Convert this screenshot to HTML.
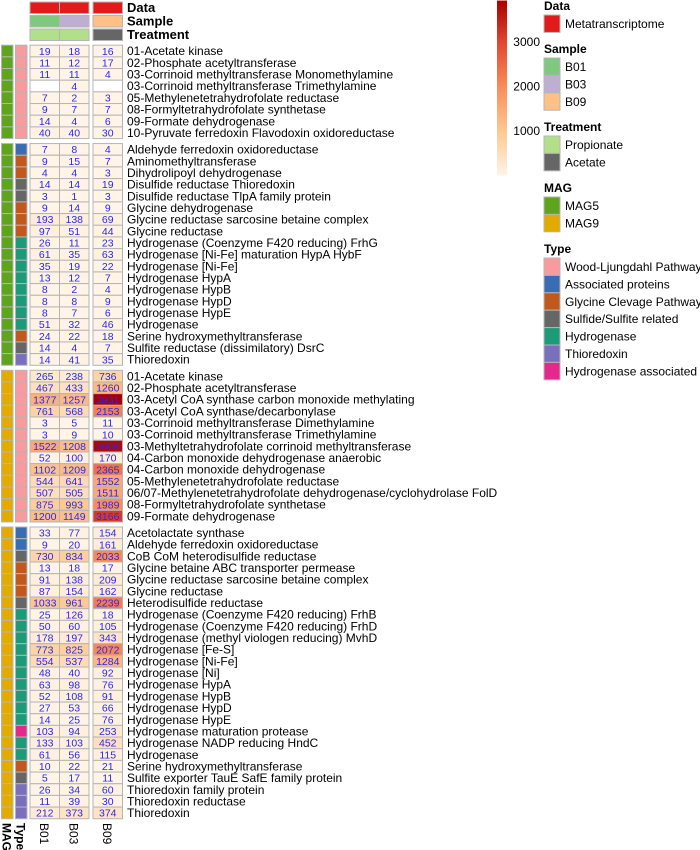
<!DOCTYPE html>
<html><head><meta charset="utf-8"><style>
body{margin:0;background:#fff;width:700px;height:850px;overflow:hidden}
svg{display:block;font-family:"Liberation Sans",Arial,sans-serif}
</style></head><body>
<svg id="chart" width="700" height="850" xmlns="http://www.w3.org/2000/svg"></svg>
<script>
const s1Labels=["01-Acetate kinase","02-Phosphate acetyltransferase","03-Corrinoid methyltransferase Monomethylamine","03-Corrinoid methyltransferase Trimethylamine","05-Methylenetetrahydrofolate reductase","08-Formyltetrahydrofolate synthetase","09-Formate dehydrogenase","10-Pyruvate ferredoxin Flavodoxin oxidoreductase"];
const s1B01=[19,11,11,null,7,9,14,40];
const s1B03=[18,12,11,4,2,7,4,40];
const s1B09=[16,17,4,null,3,7,6,30];
const s1Type=["WL","WL","WL","WL","WL","WL","WL","WL"];
const s2Labels=["Aldehyde ferredoxin oxidoreductase","Aminomethyltransferase","Dihydrolipoyl dehydrogenase","Disulfide reductase Thioredoxin","Disulfide reductase TlpA family protein","Glycine dehydrogenase","Glycine reductase sarcosine betaine complex","Glycine reductase","Hydrogenase (Coenzyme F420 reducing) FrhG","Hydrogenase [Ni-Fe] maturation HypA HybF","Hydrogenase [Ni-Fe]","Hydrogenase HypA","Hydrogenase HypB","Hydrogenase HypD","Hydrogenase HypE","Hydrogenase","Serine hydroxymethyltransferase","Sulfite reductase (dissimilatory) DsrC","Thioredoxin"];
const s2B01=[7,9,4,14,3,9,193,97,26,61,35,13,8,8,8,51,24,14,14];
const s2B03=[8,15,4,14,1,14,138,51,11,35,19,12,2,8,7,32,22,4,41];
const s2B09=[4,7,3,19,3,9,69,44,23,63,22,7,4,9,6,46,18,7,35];
const s2Type=["AP","GC","GC","SS","SS","GC","GC","GC","HY","HY","HY","HY","HY","HY","HY","HY","GC","SS","TR"];
const s3Labels=["01-Acetate kinase","02-Phosphate acetyltransferase","03-Acetyl CoA synthase carbon monoxide methylating","03-Acetyl CoA synthase/decarbonylase","03-Corrinoid methyltransferase Dimethylamine","03-Corrinoid methyltransferase Trimethylamine","03-Methyltetrahydrofolate corrinoid methyltransferase","04-Carbon monoxide dehydrogenase anaerobic","04-Carbon monoxide dehydrogenase","05-Methylenetetrahydrofolate reductase","06/07-Methylenetetrahydrofolate dehydrogenase/cyclohydrolase FolD","08-Formyltetrahydrofolate synthetase","09-Formate dehydrogenase"];
const s3B01=[265,467,1377,761,3,3,1522,52,1102,544,507,875,1200];
const s3B03=[238,433,1257,568,5,9,1208,100,1209,641,505,993,1149];
const s3B09=[736,1260,3931,2153,11,10,3808,170,2365,1552,1511,1989,3166];
const s3Type=["WL","WL","WL","WL","WL","WL","WL","WL","WL","WL","WL","WL","WL"];
const s4Labels=["Acetolactate synthase","Aldehyde ferredoxin oxidoreductase","CoB CoM heterodisulfide reductase","Glycine betaine ABC transporter permease","Glycine reductase sarcosine betaine complex","Glycine reductase","Heterodisulfide reductase","Hydrogenase (Coenzyme F420 reducing) FrhB","Hydrogenase (Coenzyme F420 reducing) FrhD","Hydrogenase (methyl viologen reducing) MvhD","Hydrogenase [Fe-S]","Hydrogenase [Ni-Fe]","Hydrogenase [Ni]","Hydrogenase HypA","Hydrogenase HypB","Hydrogenase HypD","Hydrogenase HypE","Hydrogenase maturation protease","Hydrogenase NADP reducing HndC","Hydrogenase","Serine hydroxymethyltransferase","Sulfite exporter TauE SafE family protein","Thioredoxin family protein","Thioredoxin reductase","Thioredoxin"];
const s4B01=[33,9,730,13,91,87,1033,25,50,178,773,554,48,63,52,27,14,103,133,61,10,5,26,11,212];
const s4B03=[77,20,834,18,138,154,961,126,60,197,825,537,40,98,108,53,25,94,103,56,22,17,34,39,373];
const s4B09=[154,161,2033,17,209,162,2239,18,105,343,2072,1284,92,76,91,66,76,253,452,115,21,11,60,30,374];
const s4Type=["AP","AP","SS","GC","GC","GC","SS","HY","HY","HY","HY","HY","HY","HY","HY","HY","HY","HA","HY","HY","GC","SS","TR","TR","TR"];
const sampleNames=["B01","B03","B09"];
const colorTicks=[1000,2000,3000];

const svg=document.getElementById('chart');
const NS="http://www.w3.org/2000/svg";
function mk(tag,attrs,name,inter){const e=document.createElementNS(NS,tag);for(const k in attrs)e.setAttribute(k,attrs[k]);


svg.appendChild(e);return e;}
const typeColors={WL:"#f89b9f",AP:"#3a6cb4",GC:"#c0591b",SS:"#666666",HY:"#1b9b78",TR:"#7a6fbd",HA:"#e3298b"};
const magColors=["#5fa41d","#e3aa00"];
const stops=[[0,[255,244,230]],[1000,[253,200,145]],[2000,[249,140,88]],[3000,[224,70,48]],[3931,[168,0,0]]];
function colorOf(v){if(v==null)return"#ffffff";v=Math.max(0,Math.min(3931,v));
for(let i=1;i<stops.length;i++){if(v<=stops[i][0]){const a=stops[i-1],b=stops[i],t=(v-a[0])/(b[0]-a[0]);
const c=a[1].map((x,j)=>Math.round(x+(b[1][j]-x)*t));return "rgb("+c.join(",")+")";}}return"#a80000";}
const colX=[30,59.5,93],colW=29.5,rowH=11.67;
function yScale(val){return 175.5-val*0.0445;}
const annRows=[{n:"data",y:2,c:["#e31a1c","#e31a1c","#e31a1c"],lab:"Data"},{n:"sample",y:15.5,c:["#7fc97f","#beaed4","#fdc086"],lab:"Sample"},{n:"treatment",y:29,c:["#b2df8a","#b2df8a","#666666"],lab:"Treatment"}];
annRows.forEach(r=>{r.c.forEach((c,i)=>mk('rect',{x:colX[i],y:r.y,width:colW,height:11.5,fill:c,stroke:"#b5b5b5","stroke-width":1},r.n+'-annotation-'+sampleNames[i],false));
const t=mk('text',{x:127,y:r.y+10,"font-size":13,"font-weight":"bold",fill:"#000"},r.n+'-annotation-title',false);t.textContent=r.lab;});
const sections=[[s1Labels,s1B01,s1B03,s1B09,s1Type,0],[s2Labels,s2B01,s2B03,s2B09,s2Type,0],[s3Labels,s3B01,s3B03,s3B09,s3Type,1],[s4Labels,s4B01,s4B03,s4B09,s4Type,1]];
let yTop=45.2;
sections.forEach((s,si)=>{const [labs,a,b,c,types,mag]=s;const vals=[a,b,c];
labs.forEach((l,r)=>{const y=yTop+r*rowH;
mk('rect',{x:1.5,y:y,width:11.5,height:rowH,fill:magColors[mag],stroke:"#b5b5b5","stroke-width":1},'mag-cell',false);
mk('rect',{x:15.5,y:y,width:11.5,height:rowH,fill:typeColors[types[r]],stroke:"#b5b5b5","stroke-width":1},'type-cell',false);
vals.forEach((arr,ci)=>{const v=arr[r];
mk('rect',{x:colX[ci],y:y,width:colW,height:rowH,fill:colorOf(v),stroke:"#b5b5b5","stroke-width":1},'cell-'+sampleNames[ci],false);
if(v!=null){const t=mk('text',{x:colX[ci]+colW/2,y:y+rowH/2+3.8,"font-size":10.5,fill:"#2828f5","text-anchor":"middle"},'cell-value',false);t.textContent=v;}});
const t=mk('text',{x:127,y:y+rowH/2+4.2,"font-size":12,fill:"#000"},'row-label',false);t.textContent=l;});
yTop+=labs.length*rowH+5;});
[["MAG",7,true],["Type",21,true],["B01",44.7,false],["B03",74.2,false],["B09",107.7,false]].forEach(([txt,x,bold])=>{
const t=mk('text',{x:x-4.5,y:823,transform:"rotate(90 "+(x-4.5)+" 823)","font-size":12,"font-weight":bold?"bold":"normal",fill:"#000"},'column-label-'+txt.toLowerCase(),false);t.textContent=txt;});
const defs=document.createElementNS(NS,'defs');defs.innerHTML='<linearGradient id="cg" x1="0" y1="1" x2="0" y2="0">'+stops.map(s=>'<stop offset="'+(s[0]/3931)+'" stop-color="rgb('+s[1].join(",")+')"/>').join('')+'</linearGradient>';svg.appendChild(defs);
mk('rect',{x:497,y:yScale(3931),width:10,height:yScale(0)-yScale(3931),fill:"url(#cg)"},'color-scale-bar',false);
colorTicks.forEach(v=>{const t=mk('text',{x:540,y:yScale(v)+4,"font-size":12,"text-anchor":"end",fill:"#000"},'color-scale-tick',false);t.textContent=v;});
function legend(title,ty,items,key){const h=mk('text',{x:544,y:ty,"font-size":12,"font-weight":"bold",fill:"#000"},key+'-legend-title',false);h.textContent=title;
items.forEach(([lab,col],i)=>{const y=ty+5+i*17.4;mk('rect',{x:544,y:y,width:16,height:17.4,fill:col,stroke:"#b5b5b5","stroke-width":1},key+'-legend-swatch',false);
const t=mk('text',{x:565,y:y+13,"font-size":12,fill:"#000"},key+'-legend-entry',false);t.textContent=lab;});}
legend("Data",10,[["Metatranscriptome","#e31a1c"]],'data');
legend("Sample",53,[["B01","#7fc97f"],["B03","#beaed4"],["B09","#fdc086"]],'sample');
legend("Treatment",131,[["Propionate","#b2df8a"],["Acetate","#666666"]],'treatment');
legend("MAG",192,[["MAG5",magColors[0]],["MAG9",magColors[1]]],'mag');
legend("Type",253,[["Wood-Ljungdahl Pathway",typeColors.WL],["Associated proteins",typeColors.AP],["Glycine Clevage Pathway",typeColors.GC],["Sulfide/Sulfite related",typeColors.SS],["Hydrogenase",typeColors.HY],["Thioredoxin",typeColors.TR],["Hydrogenase associated",typeColors.HA]],'type');
</script>
</body></html>
